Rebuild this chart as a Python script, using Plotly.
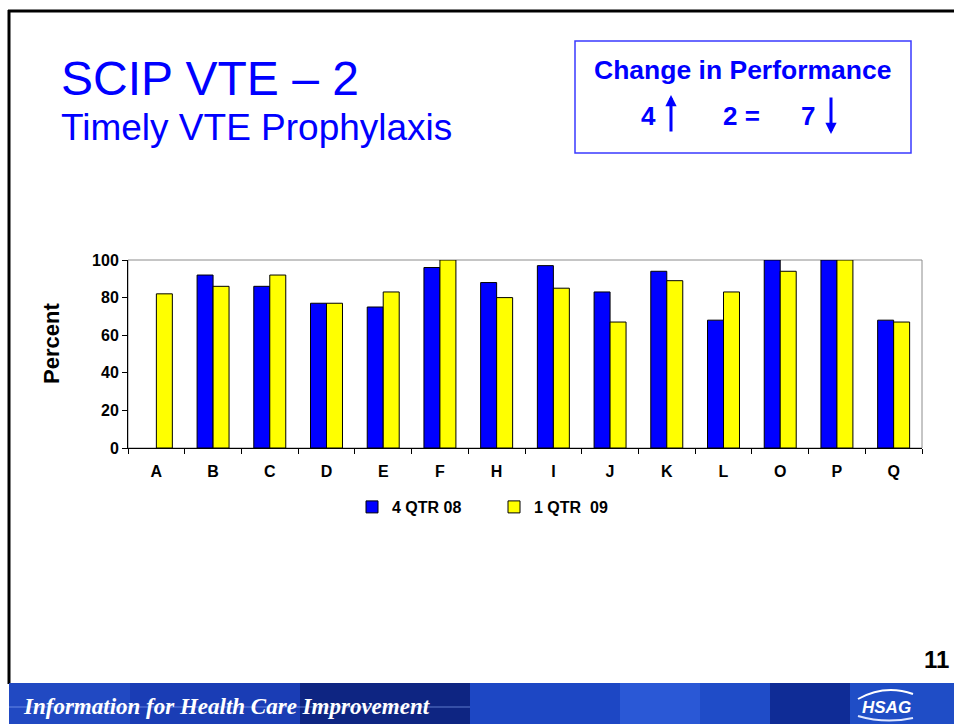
import plotly.graph_objects as go

# ---- data ----
categories = ["A", "B", "C", "D", "E", "F", "H", "I", "J", "K", "L", "O", "P", "Q"]
q4_08 = [None, 92, 86, 77, 75, 96, 88, 97, 83, 94, 68, 100, 100, 68]
q1_09 = [82, 86, 92, 77, 83, 100, 80, 85, 67, 89, 83, 94, 100, 67]
series_names = ["4 QTR 08", "1 QTR\u00a0 09"]
y_ticks = [0, 20, 40, 60, 80, 100]

# ---- page geometry (pixels) ----
W, H = 954, 724
ML, MR, MT, MB = 128, 32, 260, 276
PW, PH = W - ML - MR, H - MT - MB


def px(x):
    return (x - ML) / PW


def py(y):
    return (H - MB - y) / PH


FONT = "Arial, Liberation Sans, sans-serif"
BLUE = "#0000FF"

fig = go.Figure()
fig.add_trace(go.Bar(x=categories, y=q4_08, name=series_names[0],
                     marker=dict(color="#0000FF", line=dict(color="#000000", width=1))))
fig.add_trace(go.Bar(x=categories, y=q1_09, name=series_names[1],
                     marker=dict(color="#FFFF00", line=dict(color="#000000", width=1))))

shapes = []
# plot area grey border
shapes.append(dict(type="rect", xref="paper", yref="paper", x0=0, x1=1, y0=0, y1=1,
                   line=dict(color="#8c8c8c", width=1), layer="below"))
# slide frame (top and left black lines)
shapes.append(dict(type="line", xref="paper", yref="paper", x0=px(8), x1=px(956), y0=py(11), y1=py(11),
                   line=dict(color="#000000", width=3)))
shapes.append(dict(type="line", xref="paper", yref="paper", x0=px(9), x1=px(9), y0=py(10), y1=py(684),
                   line=dict(color="#000000", width=3)))
# change-in-performance box
shapes.append(dict(type="rect", xref="paper", yref="paper", x0=px(575), x1=px(911), y0=py(41), y1=py(153),
                   line=dict(color="#3a3aff", width=1.5), fillcolor="rgba(0,0,0,0)"))
# footer banner
banner = [(9, 130, "#2149c2"), (130, 300, "#1a3db5"), (300, 470, "#0e2582"), (470, 620, "#1d47c4"),
          (620, 700, "#2a58d6"), (700, 770, "#1f4cc8"), (770, 850, "#0f2c96"), (850, 954, "#1f4dc6")]
for x0, x1, c in banner:
    shapes.append(dict(type="rect", xref="paper", yref="paper", x0=px(x0), x1=px(x1), y0=py(683), y1=py(724),
                       line=dict(width=0), fillcolor=c, layer="above"))
shapes.append(dict(type="line", xref="paper", yref="paper", x0=px(9), x1=px(470), y0=py(707), y1=py(707),
                   line=dict(color="rgba(150,180,255,0.6)", width=1)))
# HSAG arc
shapes.append(dict(type="path", xref="paper", yref="paper",
                   path=f"M {px(858)},{py(699)} Q {px(885)},{py(684)} {px(913)},{py(694)}",
                   line=dict(color="#ffffff", width=2)))
shapes.append(dict(type="path", xref="paper", yref="paper",
                   path=f"M {px(858)},{py(716)} Q {px(885)},{py(724)} {px(913)},{py(718)}",
                   line=dict(color="#dfe6ff", width=2)))

ann = []


def text(x, y, s, size, color=BLUE, bold=False, italic=False, xanchor="left", family=FONT):
    t = s
    if italic:
        t = f"<i>{t}</i>"
    ann.append(dict(xref="paper", yref="paper", x=px(x), y=py(y), text=t, showarrow=False,
                    xanchor=xanchor, yanchor="middle",
                    font=dict(family=family, size=size, color=color, weight="bold" if bold else "normal")))


text(59, 78, "SCIP VTE – 2", 48)
text(59, 127, "Timely VTE Prophylaxis", 37)
text(742.5, 70, "Change in Performance", 26.5, bold=True, xanchor="center")
text(639, 116, "4", 26, bold=True)
text(721, 116, "2 =", 26, bold=True)
text(799, 116, "7", 26, bold=True)
text(936, 659, "11", 24, color="#000000", bold=True, xanchor="center")
text(21, 706, "Information for Health Care Improvement", 23, color="#ffffff", bold=True, italic=True,
     family="Liberation Serif, DejaVu Serif, serif")
text(886, 707, "<i>HSAG</i>", 17, color="#ffffff", bold=True, xanchor="center")

# arrows
ann.append(dict(xref="paper", yref="paper", x=px(671), y=py(95), ax=0, ay=38, text="",
                showarrow=True, arrowhead=2, arrowsize=0.75, arrowwidth=3, arrowcolor=BLUE))
ann.append(dict(xref="paper", yref="paper", x=px(831), y=py(134), ax=0, ay=-38, text="",
                showarrow=True, arrowhead=2, arrowsize=0.75, arrowwidth=3, arrowcolor=BLUE))
# y-axis title
ann.append(dict(xref="paper", yref="paper", x=px(51), y=py(344), text="Percent", textangle=-90,
                showarrow=False, xanchor="center", yanchor="middle",
                font=dict(family=FONT, size=22, color="#000000", weight="bold")))

fig.update_layout(
    width=W, height=H, autosize=False,
    margin=dict(l=ML, r=MR, t=MT, b=MB, pad=0),
    paper_bgcolor="#ffffff", plot_bgcolor="#ffffff",
    barmode="group", bargap=0.436, bargroupgap=0,
    font=dict(family=FONT, color="#000000"),
    shapes=shapes, annotations=ann,
    showlegend=True,
    legend=dict(orientation="h", x=px(352), xanchor="left", y=py(507), yanchor="middle",
                font=dict(family=FONT, size=16, color="#000000", weight="bold"),
                entrywidth=97, entrywidthmode="pixels", bgcolor="rgba(0,0,0,0)"),
)
fig.update_xaxes(type="category", showline=True, linecolor="#000000", linewidth=1,
                 ticks="outside", tickson="boundaries", ticklen=5, tickcolor="#000000",
                 tickfont=dict(family=FONT, size=16, color="#000000", weight="bold"),
                 ticklabelstandoff=9, showgrid=False, zeroline=False, fixedrange=True)
fig.update_yaxes(range=[0, 100], tickvals=y_ticks, showline=True, linecolor="#000000", linewidth=1,
                 ticks="outside", ticklen=5, tickcolor="#000000",
                 tickfont=dict(family=FONT, size=16, color="#000000", weight="bold"),
                 showgrid=False, zeroline=False, fixedrange=True)

fig.write_html("out.html", config={"displayModeBar": False},
               post_script="document.body.style.margin='0';document.body.style.overflow='hidden';")
